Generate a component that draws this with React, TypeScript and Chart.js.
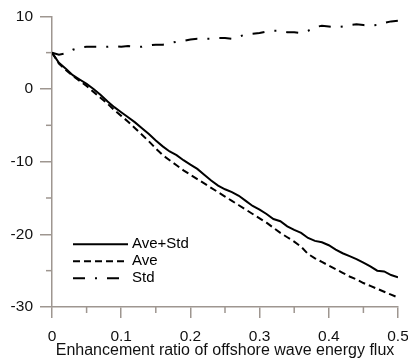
import React, { useEffect, useRef } from "react";
import { Chart, registerables } from "chart.js";
Chart.register(...registerables);

const ratio = [
  0, 0.01, 0.02, 0.03, 0.04, 0.05, 0.06, 0.07, 0.08, 0.09,
  0.1, 0.11, 0.12, 0.13, 0.14, 0.15, 0.16, 0.17, 0.18, 0.19,
  0.2, 0.21, 0.22, 0.23, 0.24, 0.25, 0.26, 0.27, 0.28, 0.29,
  0.3, 0.31, 0.32, 0.33, 0.34, 0.35, 0.36, 0.37, 0.38, 0.39,
  0.4, 0.41, 0.42, 0.43, 0.44, 0.45, 0.46, 0.47, 0.48, 0.49, 0.5,
];
const aveStd = [
  5.0, 3.6, 2.8, 1.9, 1.3, 0.7, 0.0, -0.8, -1.7, -2.5,
  -3.2, -3.9, -4.6, -5.4, -6.2, -7.1, -7.9, -8.6, -9.1, -9.8,
  -10.4, -11.0, -11.8, -12.6, -13.3, -13.8, -14.2, -14.7, -15.4, -16.1,
  -16.6, -17.2, -17.9, -18.2, -18.9, -19.4, -19.8, -20.5, -20.9, -21.1,
  -21.5, -22.1, -22.6, -23.0, -23.4, -23.9, -24.4, -25.0, -25.1, -25.6, -25.9,
];
const ave = [
  5.0, 3.5, 2.6, 1.8, 1.1, 0.4, -0.4, -1.2, -2.0, -2.9,
  -3.7, -4.5, -5.4, -6.3, -7.2, -8.2, -9.1, -9.8, -10.5, -11.2,
  -11.8, -12.4, -13.0, -13.6, -14.2, -14.8, -15.4, -16.0, -16.6, -17.2,
  -17.8, -18.4, -19.1, -19.8, -20.4, -21.0, -21.7, -22.7, -23.3, -23.8,
  -24.3, -24.8, -25.3, -25.8, -26.2, -26.7, -27.1, -27.5, -27.9, -28.3, -28.7,
];
const std = [
  5.0, 4.7, 4.9, 5.4, 5.7, 5.8, 5.8, 5.8, 5.8, 5.9,
  5.8, 5.9, 5.8, 5.8, 6.0, 6.1, 6.1, 6.3, 6.5, 6.6,
  6.8, 6.9, 6.9, 6.9, 7.0, 7.0, 6.9, 7.2, 7.5, 7.6,
  7.7, 7.9, 8.0, 8.0, 7.8, 7.8, 7.7, 8.0, 8.5, 8.7,
  8.6, 8.5, 8.6, 8.8, 8.9, 8.8, 8.7, 8.8, 9.1, 9.3, 9.4,
];
const seriesNames = ["Ave+Std", "Ave", "Std"];
const yMinorTicks = [-25, -15, -5, 5];
const xMinorTicks = [0.05, 0.15, 0.25, 0.35, 0.45];
const xTitle = "Enhancement ratio of offshore wave energy flux";

const AXIS = "#9e9690";
const FONT = "'Liberation Sans', Arial, sans-serif";
const dashes: number[][] = [[], [7, 4], [12, 10, 2, 10]];

const extras = {
  id: "extras",
  afterDraw(chart: any) {
    const { ctx, chartArea, scales } = chart;
    const x = scales.x;
    const y = scales.y;
    ctx.save();
    ctx.strokeStyle = AXIS;
    ctx.lineWidth = 1.5;
    yMinorTicks.forEach((v) => {
      const py = y.getPixelForValue(v);
      ctx.beginPath();
      ctx.moveTo(chartArea.left - 6, py);
      ctx.lineTo(chartArea.left, py);
      ctx.stroke();
    });
    xMinorTicks.forEach((v) => {
      const px = x.getPixelForValue(v);
      ctx.beginPath();
      ctx.moveTo(px, chartArea.bottom);
      ctx.lineTo(px, chartArea.bottom + 6);
      ctx.stroke();
    });
    // legend
    ctx.strokeStyle = "#000";
    ctx.lineWidth = 2;
    ctx.fillStyle = "#000";
    ctx.font = "15px " + FONT;
    ctx.textBaseline = "middle";
    ctx.textAlign = "left";
    seriesNames.forEach((name, i) => {
      const ly = chartArea.top + 228 + i * 17;
      const lx = chartArea.left + 21;
      ctx.setLineDash(dashes[i]);
      ctx.beginPath();
      ctx.moveTo(lx, ly);
      ctx.lineTo(lx + 55, ly);
      ctx.stroke();
      ctx.setLineDash([]);
      ctx.fillText(name, lx + 59, ly);
    });
    ctx.restore();
  },
};

export default function App() {
  const ref = useRef<HTMLCanvasElement | null>(null);
  useEffect(() => {
    if (!ref.current) return;
    const series = [aveStd, ave, std];
    const chart = new Chart(ref.current, {
      type: "line",
      data: {
        datasets: series.map((s, i) => ({
          label: seriesNames[i],
          data: ratio.map((r, j) => ({ x: r, y: s[j] })),
          borderColor: "#000",
          borderWidth: 2,
          borderDash: dashes[i],
          pointRadius: 0,
          tension: 0,
          fill: false,
        })),
      },
      options: {
        animation: false,
        responsive: true,
        maintainAspectRatio: false,
        layout: { padding: { left: 0, right: 0, top: 15, bottom: 0 } },
        plugins: { legend: { display: false }, tooltip: { enabled: false } },
        scales: {
          x: {
            type: "linear",
            min: 0,
            max: 0.5,
            afterFit: (s: any) => {
              s.height = 53;
              s.paddingRight = 10;
            },
            border: { color: AXIS, width: 1.5 },
            grid: { drawOnChartArea: false, drawTicks: true, tickLength: 11, color: AXIS, lineWidth: 1.5 },
            ticks: { stepSize: 0.1, padding: 9, color: "#111", font: { family: FONT, size: 15.5 } },
            title: { display: true, text: xTitle, color: "#111", padding: { top: 0, bottom: 0 }, font: { family: FONT, size: 16 } },
          },
          y: {
            min: -30,
            max: 10,
            afterFit: (s: any) => {
              s.width = 52;
            },
            border: { color: AXIS, width: 1.5 },
            grid: { drawOnChartArea: false, drawTicks: true, tickLength: 12, color: AXIS, lineWidth: 1.5 },
            ticks: { stepSize: 10, padding: 7, color: "#111", font: { family: FONT, size: 15.5 } },
          },
        },
      },
      plugins: [extras],
    });
    return () => chart.destroy();
  }, []);
  return (
    <div style={{ position: "fixed", left: 0, top: 0, width: 408, height: 360, background: "#fff" }}>
      <canvas ref={ref} />
    </div>
  );
}
